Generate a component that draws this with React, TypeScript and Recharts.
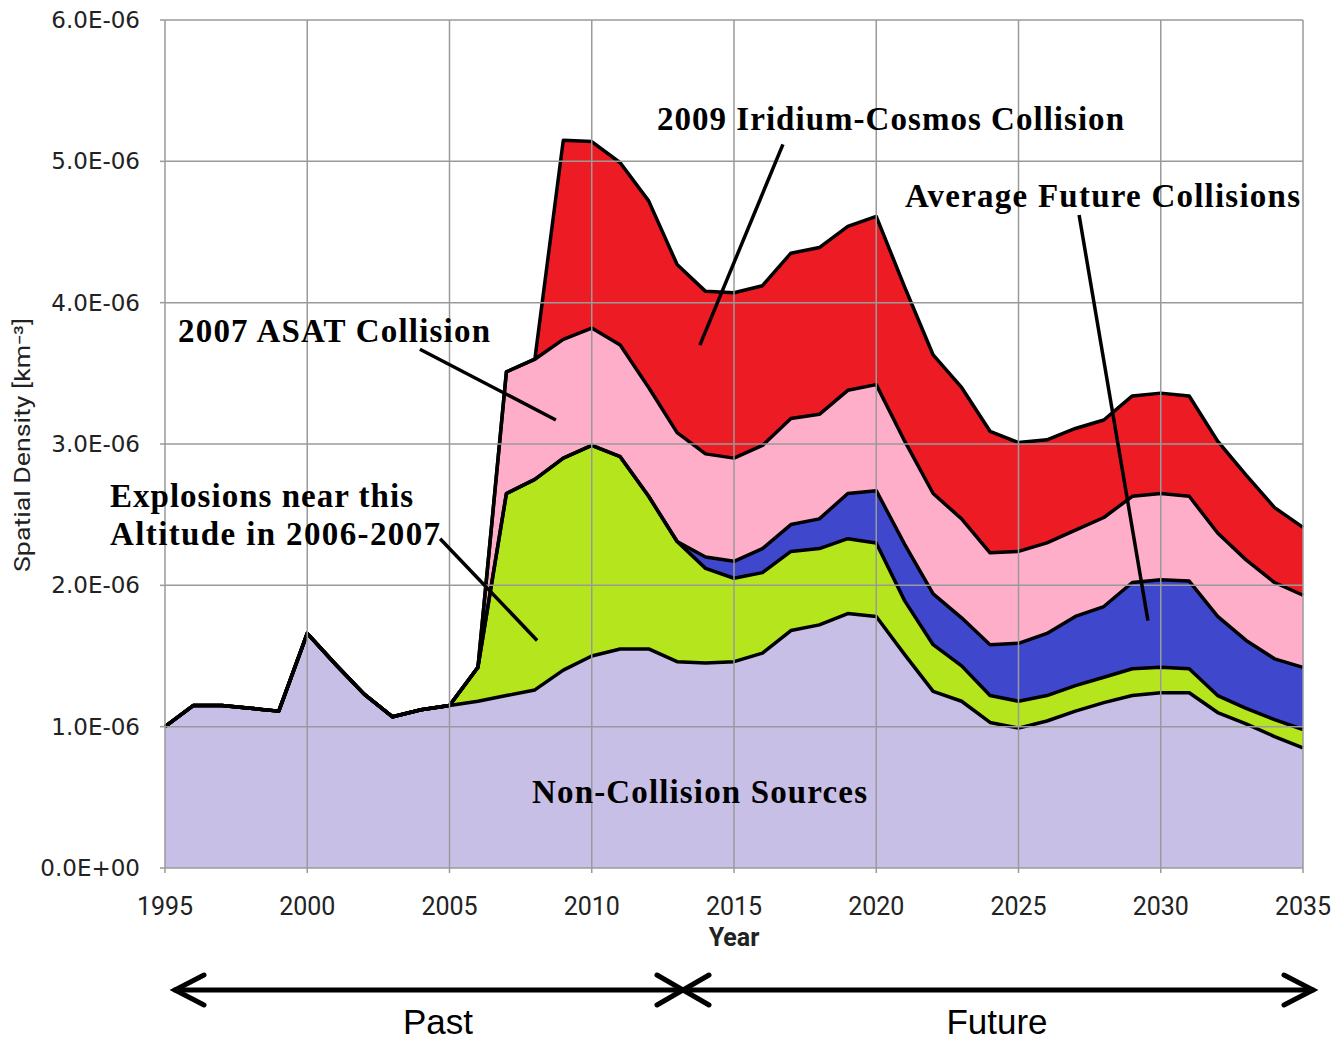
import { AreaChart, Area, XAxis, YAxis, ReferenceLine, Label } from "recharts";

// values are in units of 1e-6 km^-3
const years = [
  1995, 1996, 1997, 1998, 1999, 2000, 2001, 2002, 2003, 2004,
  2005, 2006, 2007, 2008, 2009, 2010, 2011, 2012, 2013, 2014,
  2015, 2016, 2017, 2018, 2019, 2020, 2021, 2022, 2023, 2024,
  2025, 2026, 2027, 2028, 2029, 2030, 2031, 2032, 2033, 2034, 2035,
];
const nonCollision = [
  1.0, 1.15, 1.15, 1.13, 1.11, 1.66, 1.44, 1.23, 1.07, 1.12,
  1.15, 1.18, 1.22, 1.26, 1.4, 1.5, 1.55, 1.55, 1.46, 1.45,
  1.46, 1.52, 1.68, 1.72, 1.8, 1.78, 1.51, 1.25, 1.18, 1.03,
  0.99, 1.04, 1.11, 1.17, 1.22, 1.24, 1.24, 1.1, 1.02, 0.93, 0.85,
];
const explosions = [
  0, 0, 0, 0, 0, 0, 0, 0, 0, 0,
  0, 0.24, 1.43, 1.49, 1.5, 1.49, 1.36, 1.08, 0.85, 0.67,
  0.59, 0.57, 0.56, 0.54, 0.53, 0.52, 0.38, 0.33, 0.25, 0.19,
  0.19, 0.18, 0.18, 0.18, 0.19, 0.18, 0.17, 0.12, 0.11, 0.12, 0.13,
];
const futureCollisions = [
  0, 0, 0, 0, 0, 0, 0, 0, 0, 0,
  0, 0, 0, 0, 0, 0, 0, 0, 0, 0.08,
  0.12, 0.17, 0.19, 0.21, 0.32, 0.37, 0.4, 0.36, 0.34, 0.36,
  0.41, 0.44, 0.49, 0.5, 0.61, 0.62, 0.62, 0.56, 0.48, 0.43, 0.44,
];
const asatCollision = [
  0, 0, 0, 0, 0, 0, 0, 0, 0, 0,
  0, 0, 0.86, 0.85, 0.84, 0.83, 0.79, 0.77, 0.77, 0.73,
  0.73, 0.73, 0.75, 0.74, 0.73, 0.75, 0.73, 0.71, 0.7, 0.65,
  0.65, 0.64, 0.61, 0.63, 0.61, 0.61, 0.6, 0.59, 0.57, 0.54, 0.51,
];
const iridiumCosmos = [
  0, 0, 0, 0, 0, 0, 0, 0, 0, 0,
  0, 0, 0, 0, 1.41, 1.32, 1.29, 1.32, 1.19, 1.15,
  1.17, 1.13, 1.17, 1.18, 1.16, 1.19, 1.09, 0.98, 0.93, 0.86,
  0.77, 0.73, 0.72, 0.69, 0.71, 0.71, 0.71, 0.65, 0.6, 0.53, 0.48,
];

const xTicks = [1995, 2000, 2005, 2010, 2015, 2020, 2025, 2030, 2035];
const yTicks = [0, 1, 2, 3, 4, 5, 6];

const UNIT = 1e-6;

const data = years.map((year, i) => ({
  year,
  nonCollision: nonCollision[i] * UNIT,
  explosions: explosions[i] * UNIT,
  futureCollisions: futureCollisions[i] * UNIT,
  asatCollision: asatCollision[i] * UNIT,
  iridiumCosmos: iridiumCosmos[i] * UNIT,
}));

const series = [
  { key: "nonCollision", fill: "#C8BFE7" },
  { key: "explosions", fill: "#B5E61D" },
  { key: "futureCollisions", fill: "#3F48CC" },
  { key: "asatCollision", fill: "#FFAEC9" },
  { key: "iridiumCosmos", fill: "#ED1C24" },
];

// leader lines: [x1, y1, x2, y2] in data units
const leaders = [
  [2016.72, 5.12, 2013.8, 3.7],
  [2027.13, 4.62, 2029.55, 1.75],
  [2003.96, 3.67, 2008.74, 3.17],
  [2004.67, 2.33, 2008.08, 1.61],
];

const sci = (v: number) => {
  if (v === 0) return "0.0E+00";
  const [m, e] = v.toExponential(1).split("e");
  const n = parseInt(e, 10);
  return `${m}E${n < 0 ? "-" : "+"}${String(Math.abs(n)).padStart(2, "0")}`;
};

const gridColor = "#9a9a9a";
const serif = "'Liberation Serif', 'Times New Roman', serif";
const sans = "Roboto, 'Liberation Sans', sans-serif";

export default function App() {
  return (
    <div style={{ position: "absolute", left: 0, top: 0, width: 1333, height: 1042, background: "#fff" }}>
      <AreaChart
        width={1333}
        height={1042}
        data={data}
        margin={{ top: 20, right: 30, left: 0, bottom: 84 }}
      >
        <XAxis
          dataKey="year"
          type="number"
          domain={[1995, 2035]}
          ticks={xTicks}
          stroke={gridColor}
          strokeWidth={1.5}
          tickSize={5}
          tickMargin={24}
          height={90}
          tick={{ fill: "#222", fontSize: 25, fontFamily: sans }}
        >
          <Label
            value="Year"
            position="insideBottom"
            offset={12}
            style={{ fill: "#222", fontSize: 25, fontWeight: 700, fontFamily: sans }}
          />
        </XAxis>
        <YAxis
          type="number"
          domain={[0, 6 * UNIT]}
          ticks={yTicks.map((t) => t * UNIT)}
          tickFormatter={sci}
          stroke={gridColor}
          strokeWidth={1.5}
          tickSize={5}
          tickMargin={20}
          width={165}
          tick={{ fill: "#222", fontSize: 23, fontFamily: "'DejaVu Sans', sans-serif" }}
        />
        {/* fills first, outlines drawn as a second stack so no fill covers them */}
        {series.map((s) => (
          <Area
            key={s.key}
            type="linear"
            dataKey={s.key}
            stackId="fill"
            stroke="none"
            fill={s.fill}
            fillOpacity={1}
            dot={false}
            activeDot={false}
            isAnimationActive={false}
          />
        ))}
        {xTicks.slice(1).map((t) => (
          <ReferenceLine key={`gx${t}`} x={t} stroke={gridColor} strokeWidth={1.5} />
        ))}
        {yTicks.slice(1).map((t) => (
          <ReferenceLine key={`gy${t}`} y={t * UNIT} stroke={gridColor} strokeWidth={1.5} />
        ))}
        {series.map((s) => (
          <Area
            key={`${s.key}-line`}
            type="linear"
            dataKey={s.key}
            stackId="line"
            stroke="#000"
            strokeWidth={3.5}
            strokeLinejoin="round"
            fill="none"
            dot={false}
            activeDot={false}
            isAnimationActive={false}
          />
        ))}
        {leaders.map(([x1, y1, x2, y2], i) => (
          <ReferenceLine
            key={`ld${i}`}
            segment={[
              { x: x1, y: y1 * UNIT },
              { x: x2, y: y2 * UNIT },
            ]}
            stroke="#000"
            strokeWidth={3.5}
          />
        ))}
      </AreaChart>
      <svg
        width={1333}
        height={1042}
        style={{ position: "absolute", left: 0, top: 0, pointerEvents: "none" }}
      >
        <text
          x={22}
          y={445}
          transform="rotate(-90 22 445)"
          textAnchor="middle"
          dominantBaseline="central"
          fontFamily={sans}
          fontSize={22}
          fill="#222"
          textLength={254}
          lengthAdjust="spacingAndGlyphs"
        >
          Spatial Density [km⁻³]
        </text>
        <g fontFamily={serif} fontWeight={700} fontSize={33} fill="#000">
          <text x={657} y={130} textLength={467} lengthAdjust="spacing">2009 Iridium-Cosmos Collision</text>
          <text x={905} y={207} textLength={395} lengthAdjust="spacing">Average Future Collisions</text>
          <text x={178} y={342} textLength={312} lengthAdjust="spacing">2007 ASAT Collision</text>
          <text x={110} y={507} textLength={303} lengthAdjust="spacing">Explosions near this</text>
          <text x={110} y={545} textLength={330} lengthAdjust="spacing">Altitude in 2006-2007</text>
          <text x={532} y={803} textLength={335} lengthAdjust="spacing">Non-Collision Sources</text>
        </g>
        <g stroke="#000" strokeWidth={5} strokeLinecap="round" fill="none">
          <line x1={175} y1={990} x2={1313} y2={990} />
          <polyline points="204,975 175,990 204,1005" />
          <polyline points="657,975 683,990 657,1005" />
          <polyline points="709,975 683,990 709,1005" />
          <polyline points="1284,975 1313,990 1284,1005" />
        </g>
        <g fontFamily="'Liberation Sans', Arial, sans-serif" fontSize={35} fill="#000" textAnchor="middle">
          <text x={438} y={1034}>Past</text>
          <text x={997} y={1034}>Future</text>
        </g>
      </svg>
    </div>
  );
}
